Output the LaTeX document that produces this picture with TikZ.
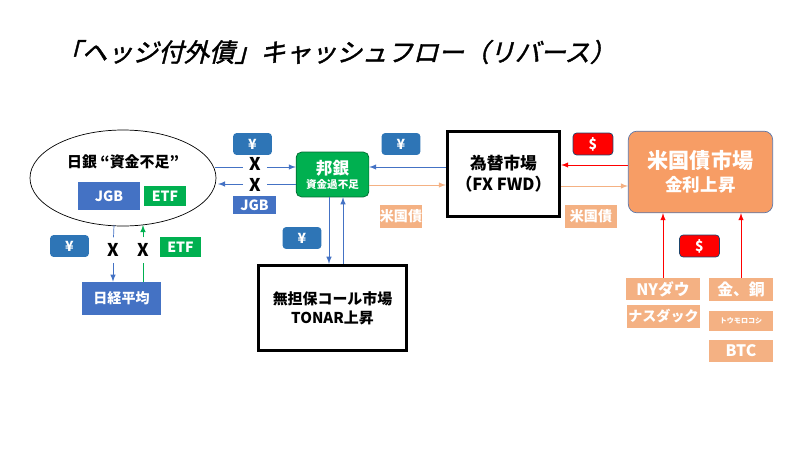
\documentclass[tikz,border=0pt]{standalone}
\usepackage{fontspec}
\setmainfont{Noto Sans CJK JP}
\newfontfamily\titlefont{Noto Sans CJK JP}[FakeSlant=0.25,FakeBold=1.5]
\usetikzlibrary{positioning}
\definecolor{yenblue}{HTML}{2E75B6}
\definecolor{boxblue}{HTML}{4472C4}
\definecolor{okgreen}{HTML}{00B050}
\definecolor{lightor}{HTML}{F4B183}
\definecolor{bigor}{HTML}{F79D65}
\definecolor{usred}{HTML}{FF0000}
\newcommand{\px}[1]{#1*0.5669pt}
\tikzset{
    tag/.style={text=white, font=\fontsize{8}{9}\selectfont\bfseries, inner sep=0pt},
    yen/.style={tag, fill=yenblue, rounded corners=2pt, minimum width={\px{39}}, minimum height={\px{22}}},
    dollar/.style={tag, fill=usred, draw=yenblue!60!black, rounded corners=2pt, minimum width={\px{40}}, minimum height={\px{22}}},
    blue box/.style={tag, fill=boxblue},
    green box/.style={tag, fill=okgreen},
    ust/.style={tag, fill=lightor},
    market/.style={draw, line width=1.6pt, align=center, font=\fontsize{8.5}{11}\selectfont\bfseries},
    cross/.style={font=\fontsize{10}{11}\selectfont\bfseries},
    yenflow/.style={boxblue, -latex, thin},
    etfflow/.style={okgreen, -latex, thin},
    ustflow/.style={lightor, -latex, thin},
    usdflow/.style={usred, -latex, thin},
}
\begin{document}
\begin{tikzpicture}[x=0.02cm, y=-0.02cm]
    \useasboundingbox (0,0) rectangle (800,450);

    \node[anchor=west, font=\titlefont\fontsize{14.5}{16}\selectfont] (title) at (50,52) {「ヘッジ付外債」キャッシュフロー（リバース）};

    % left side
    \draw[thin] (123,178) ellipse (93 and 48);
    \node[font=\fontsize{8.5}{10}\selectfont\bfseries] (boj) at (123,162) {日銀 “資金不足”};
    \node[blue box, minimum width={\px{62}}, minimum height={\px{28}}] (jgb) at (109,196) {JGB};
    \node[green box, minimum width={\px{43}}, minimum height={\px{20}}] (etf) at (165,196) {ETF};
    \node[blue box, minimum width={\px{79}}, minimum height={\px{33}}] (nikkei) at (121.5,298.5) {日経平均};
    \node[yen] (yen3) at (69.5,246) {¥};
    \node[green box, minimum width={\px{41}}, minimum height={\px{20}}] (etf2) at (180.5,247) {ETF};
    \node[cross] (x3) at (113,250) {X};
    \node[cross] (x4) at (143,250) {X};
    \coordinate (ovalS1) at (114,225);
    \coordinate (ovalS2) at (143,225);
    \draw[boxblue, thin] (ovalS1) -- (x3);
    \draw[yenflow] (x3) -- (nikkei.north -| x3);
    \draw[okgreen, thin] (nikkei.north -| x4) -- (x4);
    \draw[etfflow] (x4) -- (ovalS2);

    % bank
    \node[fill=okgreen, draw=okgreen!60!black, rounded corners=3pt, minimum width={\px{73}}, minimum height={\px{45}}, align=center, text=white, font=\fontsize{9.5}{9}\selectfont\bfseries] (bank) at (332.5,174.5) {邦銀\\[-1pt]{\fontsize{6}{6}\selectfont 資金過不足}};
    \node[yen] (yen1) at (252.5,144) {¥};
    \node[cross] (x1) at (255,164) {X};
    \node[cross] (x2) at (255,185) {X};
    \node[blue box, minimum width={\px{43}}, minimum height={\px{18}}] (jgb2) at (254.5,205) {JGB};
    \coordinate (ovalE1) at (215,167);
    \coordinate (ovalE2) at (218,184);
    \draw[boxblue, thin] (ovalE1) -- (x1.west |- ovalE1);
    \draw[yenflow] (x1.east |- ovalE1) -- (bank.west |- ovalE1);
    \draw[boxblue, thin] (bank.west |- ovalE2) -- (x2.east |- ovalE2);
    \draw[yenflow] (x2.west |- ovalE2) -- (ovalE2);

    % call market
    \node[market, minimum width={\px{149}}, minimum height={\px{86}}] (call) at (332.5,308) {無担保コール市場\\TONAR上昇};
    \node[yen] (yen4) at (302,238) {¥};
    \draw[yenflow] (bank.south -| 329,0) -- (call.north -| 329,0);
    \draw[yenflow] (call.north -| 343,0) -- (bank.south -| 343,0);

    % FX market
    \node[market, font=\fontsize{9.5}{12}\selectfont\bfseries, minimum width={\px{113}}, minimum height={\px{86}}] (fx) at (503.5,174) {為替市場\\（FX FWD）};
    \node[yen] (yen2) at (401,144) {¥};
    \node[ust, minimum width={\px{38}}, minimum height={\px{23}}] (ust1) at (401,216.5) {米国債};
    \draw[yenflow] (fx.west |- 0,167) -- (bank.east |- 0,167);
    \draw[ustflow] (bank.east |- 0,185) -- (fx.west |- 0,185);

    % US market
    \node[fill=bigor, draw=boxblue!60!gray, rounded corners=5pt, minimum width={\px{145}}, minimum height={\px{82}}, align=center, text=white, font=\fontsize{12}{13}\selectfont\bfseries] (usm) at (700.5,172) {米国債市場\\{\fontsize{10}{11}\selectfont 金利上昇}};
    \node[dollar] (usd1) at (593,144) {\$};
    \node[ust, minimum width={\px{52}}, minimum height={\px{23}}] (ust2) at (591,216.5) {米国債};
    \draw[usdflow] (usm.west |- 0,165) -- (fx.east |- 0,165);
    \draw[ustflow] (fx.east |- 0,186) -- (usm.west |- 0,186);

    \node[dollar] (usd2) at (699.5,246) {\$};
    \node[ust, minimum width={\px{74}}, minimum height={\px{22}}, font=\fontsize{9}{10}\selectfont\bfseries] (nydow) at (663,289) {NYダウ};
    \node[ust, minimum width={\px{73}}, minimum height={\px{23}}] (nasdaq) at (663.5,316.5) {ナスダック};
    \node[ust, minimum width={\px{64}}, minimum height={\px{23}}, font=\fontsize{9}{10}\selectfont\bfseries] (metal) at (741,289.5) {金、銅};
    \node[ust, minimum width={\px{64}}, minimum height={\px{20}}, font=\fontsize{4}{5}\selectfont\bfseries] (corn) at (741,321) {トウモロコシ};
    \node[ust, minimum width={\px{64}}, minimum height={\px{22}}, font=\fontsize{9}{10}\selectfont\bfseries] (btc) at (741,351) {BTC};
    \draw[usdflow] (nydow.north) -- (usm.south -| nydow);
    \draw[usdflow] (metal.north) -- (usm.south -| metal);
\end{tikzpicture}
\end{document}
